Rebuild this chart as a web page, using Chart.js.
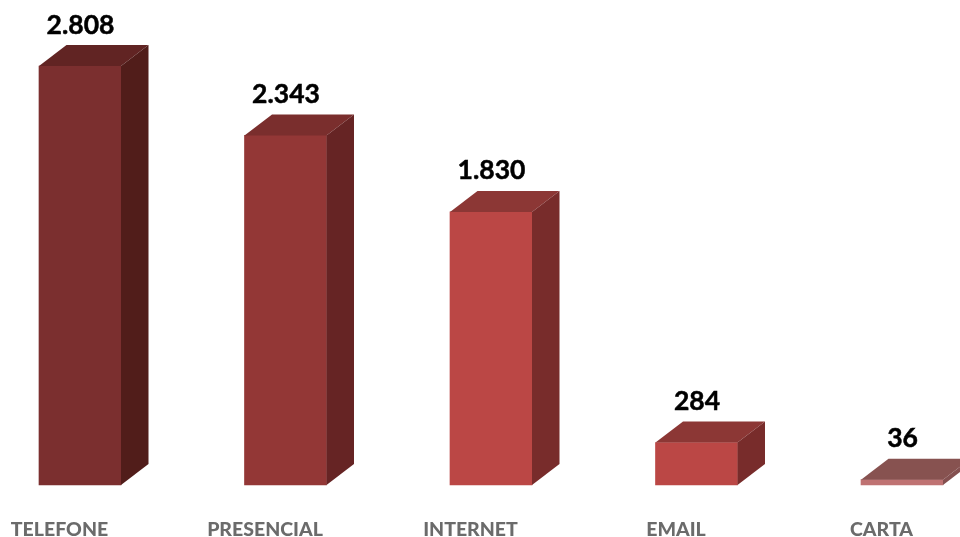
<!DOCTYPE html>
<html>
<head>
<meta charset="utf-8">
<title>Canais</title>
<script src="https://cdn.jsdelivr.net/npm/chart.js@4"></script>
<style>
  html, body { margin: 0; padding: 0; background: #fff; overflow: hidden; }
  canvas { display: block; }
</style>
</head>
<body>
<canvas id="myChart" width="960" height="537"></canvas>
<script>
// Dados
const categories = ["TELEFONE", "PRESENCIAL", "INTERNET", "EMAIL", "CARTA"];
const values = [2808, 2343, 1830, 284, 36];

// Cores de cada face da barra
const frontColors = ["#7b2f2f", "#933736", "#bb4745", "#bb4745", "#bf7272"];
const topColors = ["#612423", "#7a2e2d", "#8c3735", "#8c3735", "#875250"];
const sideColors = ["#511d1a", "#662424", "#782c2b", "#782c2b", "#845050"];

const depthX = 27.5;
const depthY = 21;

function face(ctx, color, pts) {
  ctx.fillStyle = color;
  ctx.beginPath();
  ctx.moveTo(pts[0][0], pts[0][1]);
  for (let i = 1; i < pts.length; i++) ctx.lineTo(pts[i][0], pts[i][1]);
  ctx.closePath();
  ctx.fill();
}

// Desenha o topo, a lateral e o valor de cada barra
const bars3d = {
  id: "bars3d",
  afterDatasetsDraw(chart) {
    const ctx = chart.ctx;
    ctx.save();
    chart.getDatasetMeta(0).data.forEach((bar, i) => {
      const left = bar.x - bar.width / 2;
      const right = bar.x + bar.width / 2;
      face(ctx, topColors[i], [
        [left, bar.y], [right, bar.y],
        [right + depthX, bar.y - depthY], [left + depthX, bar.y - depthY]
      ]);
      face(ctx, sideColors[i], [
        [right, bar.y], [right + depthX, bar.y - depthY],
        [right + depthX, bar.base - depthY], [right, bar.base]
      ]);
      ctx.fillStyle = "#000";
      ctx.strokeStyle = "#000";
      ctx.lineWidth = 0.5;
      ctx.font = "bold 26.5px Lato";
      ctx.textAlign = "center";
      ctx.textBaseline = "middle";
      const label = values[i].toLocaleString("pt-BR");
      ctx.fillText(label, bar.x + 0.5, bar.y - depthY - 20);
      ctx.strokeText(label, bar.x + 0.5, bar.y - depthY - 20);
    });
    ctx.restore();
  }
};

new Chart(document.getElementById("myChart").getContext("2d"), {
  type: "bar",
  data: {
    labels: categories,
    datasets: [{
      data: values,
      backgroundColor: frontColors,
      barThickness: 82,
      clip: false
    }]
  },
  options: {
    responsive: false,
    animation: false,
    layout: { padding: { left: 80, right: 58, top: 7.5, bottom: 0 } },
    plugins: { legend: { display: false }, tooltip: { enabled: false } },
    scales: {
      x: {
        offset: false,
        grid: { display: false },
        border: { display: false },
        afterFit(scale) { scale.height = 52; },
        ticks: {
          autoSkip: false,
          maxRotation: 0,
          labelOffset: -20.5,
          padding: 25,
          color: "#6b6b6b",
          font: { family: "Lato", size: 19.5, weight: "900" }
        }
      },
      y: { display: false, min: 0, max: 3200 }
    }
  },
  plugins: [bars3d]
});
</script>
</body>
</html>
